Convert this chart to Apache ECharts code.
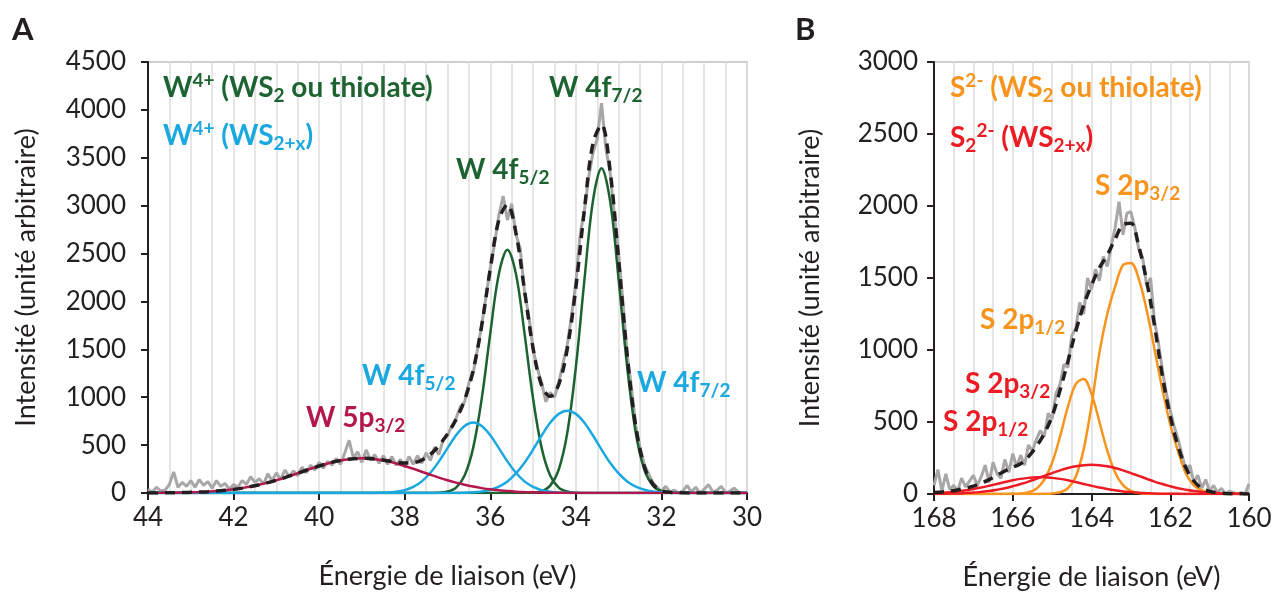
<!DOCTYPE html>
<html>
<head>
<meta charset="utf-8">
<script src="https://cdn.jsdelivr.net/npm/echarts@6/dist/echarts.min.js"></script>
<style>
html,body{margin:0;padding:0;background:#fff;}
#chart{width:1275px;height:596px;}
</style>
</head>
<body>
<div id="chart"></div>
<script>
// ---------- Panel A : W 4f region (binding energy 44 -> 30 eV) ----------
// fitted curves sampled every 0.2 eV from 44.0 to 30.0 ; raw spectrum every 0.1 eV
const fitStartA = 44.0, fitStepA = -0.2;
const rawStartA = 44.0, rawStepA = -0.1;
const tickLabelsA = ['44','42','40','38','36','34','32','30'];

const rawA = [
  40,10,60,20,30,90,220,60,110,70,
  130,60,140,80,120,50,130,70,100,40,
  90,60,130,90,170,110,150,90,200,130,
  210,140,240,170,230,180,270,210,290,240,
  320,260,330,290,360,300,420,550,370,430,
  320,450,340,400,310,390,300,380,290,350,
  270,380,300,390,310,420,340,480,400,560,
  600,700,780,900,950,1150,1250,1500,1750,2050,
  2350,2600,2900,3100,2850,3020,2700,2550,2100,1850,
  1500,1300,1150,950,1050,1000,1150,1350,1550,1850,
  2200,2700,2950,3300,3550,3700,4070,3600,3350,2900,
  2500,2000,1450,1100,700,480,300,200,110,60,
  20,70,10,30,0,20,80,10,60,0,
  40,90,10,30,70,0,20,50,10,0,
  0
];
const envelopeA = [
  1,1,2,3,4,7,10,14,20,28,
  38,51,67,86,108,133,161,191,222,253,
  282,308,331,348,358,362,359,350,336,321,
  312,316,343,403,494,617,768,971,1280,1751,
  2341,2849,3011,2715,2115,1512,1124,1009,1134,1507,
  2146,2959,3651,3843,3367,2429,1436,695,278,93,
  26,7,2,0,0,0,0,0,0,0,
  0
];
const ws2_4f52 = [
  0,0,0,0,0,0,0,0,0,0,
  0,0,0,0,0,0,0,0,0,0,
  0,0,0,0,0,0,0,0,0,0,
  0,0,0,1,3,15,57,183,471,985,
  1667,2286,2540,2286,1667,985,471,183,57,15,
  3,1,0,0,0,0,0,0,0,0,
  0,0,0,0,0,0,0,0,0,0,
  0
];
const ws2_4f72 = [
  0,0,0,0,0,0,0,0,0,0,
  0,0,0,0,0,0,0,0,0,0,
  0,0,0,0,0,0,0,0,0,0,
  0,0,0,0,0,0,0,0,0,0,
  0,0,0,0,1,4,19,77,244,629,
  1315,2225,3051,3390,3051,2225,1315,629,244,77,
  19,4,1,0,0,0,0,0,0,0,
  0
];
const ws2x_4f52 = [
  0,0,0,0,0,0,0,0,0,0,
  0,0,0,0,0,0,0,0,0,0,
  0,0,0,0,0,0,1,2,5,13,
  30,63,121,211,330,469,602,699,735,699,
  602,469,330,211,121,63,30,13,5,2,
  1,0,0,0,0,0,0,0,0,0,
  0,0,0,0,0,0,0,0,0,0,
  0
];
const ws2x_4f72 = [
  0,0,0,0,0,0,0,0,0,0,
  0,0,0,0,0,0,0,0,0,0,
  0,0,0,0,0,0,0,0,0,0,
  0,0,0,0,0,0,1,3,7,16,
  34,66,121,204,316,453,600,733,826,860,
  826,733,600,453,316,204,121,66,34,16,
  7,3,1,0,0,0,0,0,0,0,
  0
];
const w5p32 = [
  1,1,2,3,4,7,10,14,20,28,
  38,51,67,86,108,133,161,191,222,253,
  282,308,331,348,358,362,358,348,331,308,
  282,253,222,191,161,133,108,86,67,51,
  38,28,20,14,10,7,4,3,2,1,
  1,0,0,0,0,0,0,0,0,0,
  0,0,0,0,0,0,0,0,0,0,
  0
];

// ---------- Panel B : S 2p region (binding energy 168 -> 160 eV) ----------
const fitStartB = 168.0, fitStepB = -0.2;
const rawStartB = 168.0, rawStepB = -0.1;
const tickLabelsB = ['168','166','164','162','160'];

const rawB = [
  60,170,20,140,30,60,20,110,50,90,
  130,60,120,200,80,220,140,110,240,150,
  280,190,270,200,340,300,380,440,400,560,
  520,700,760,900,880,1100,1150,1330,1250,1500,
  1420,1560,1480,1650,1580,1720,1850,2030,1800,1950,
  1960,1850,1700,1640,1450,1500,1200,1050,860,700,
  580,470,380,270,160,200,80,130,40,100,
  20,60,10,40,0,20,10,0,10,0,
  70
];
const envelopeB = [
  10,14,20,28,40,55,75,100,130,160,
  185,210,260,330,420,540,720,920,1130,1310,
  1450,1570,1660,1770,1870,1880,1720,1480,1170,820,
  540,330,180,90,40,18,8,4,2,1,
  0
];
const s2_2p32 = [
  0,0,0,0,0,0,0,0,0,0,
  0,0,0,0,1,4,12,40,120,310,
  615,980,1250,1440,1590,1605,1494,1278,1006,727,
  483,295,140,60,25,10,4,1,0,0,
  0
];
const s2_2p12 = [
  0,0,0,0,0,0,0,0,0,0,
  1,3,12,37,99,217,398,605,763,799,
  695,502,301,150,62,21,6,1,0,0,
  0,0,0,0,0,0,0,0,0,0,
  0
];
const s22_2p32 = [
  1,2,3,4,7,10,15,21,30,40,
  54,69,86,106,126,145,164,180,192,200,
  203,200,192,180,164,145,126,106,86,69,
  54,40,30,21,15,10,7,4,3,2,
  1
];
const s22_2p12 = [
  6,9,13,18,26,35,45,57,70,83,
  95,105,112,116,116,112,105,95,83,70,
  57,45,35,26,18,13,9,6,3,2,
  1,1,0,0,0,0,0,0,0,0,
  0
];

// ---------- helpers ----------
function pairs(start, step, ys) {
  return ys.map((y, i) => [Math.round((start + step * i) * 100) / 100, y]);
}

const FONT = 'Lato';
const C = {
  raw: '#a9a6a6', env: '#231f20',
  green: '#1c6331', cyan: '#1aa8e0', magenta: '#b3174e',
  orange: '#f7941d', red: '#ed1c24', grid: '#dedede'
};

function xAxisCfg(gridIndex, min, max, labels) {
  return {
    type: 'value', gridIndex, min, max, interval: 2, inverse: true,
    name: 'Énergie de liaison (eV)', nameLocation: 'middle', nameGap: 70,
    nameTextStyle: { fontFamily: FONT, fontSize: 27, color: '#231f20' },
    axisLine: { show: true, onZero: false, lineStyle: { color: '#231f20', width: 2 } },
    axisTick: { show: true, length: 7, lineStyle: { color: '#231f20', width: 2 } },
    axisLabel: {
      fontFamily: FONT, fontSize: 26, color: '#231f20', margin: 12,
      formatter: v => labels.includes(String(v)) ? String(v) : ''
    },
    splitLine: { show: true, lineStyle: { color: C.grid, width: 1.5 } },
    minorTick: { show: false, splitNumber: 4 },
    minorSplitLine: { show: true, lineStyle: { color: C.grid, width: 1.5 } }
  };
}
function yAxisCfg(gridIndex, max, margin, gap) {
  return {
    type: 'value', gridIndex, min: 0, max, interval: 500,
    name: 'Intensité (unité arbitraire)', nameLocation: 'middle', nameGap: gap,
    nameTextStyle: { fontFamily: FONT, fontSize: 27, color: '#231f20' },
    axisLine: { show: true, lineStyle: { color: '#231f20', width: 2 } },
    axisTick: { show: true, length: 7, lineStyle: { color: '#231f20', width: 2 } },
    axisLabel: { fontFamily: FONT, fontSize: 26, color: '#231f20', margin, formatter: v => String(v) },
    splitLine: { show: false }
  };
}
function line(name, xi, data, color, width, extra) {
  return Object.assign({
    name, type: 'line', xAxisIndex: xi, yAxisIndex: xi, data,
    showSymbol: false, symbol: 'none', smooth: 0.35,
    lineStyle: { color, width }, itemStyle: { color }, silent: true, animation: false
  }, extra || {});
}
const dashed = { lineStyle: { color: '#231f20', width: 3.5, type: [10, 7] } };

function richFor(color, size) {
  const base = { fontFamily: FONT, fontWeight: 'bold', fill: color };
  return {
    m: Object.assign({ fontSize: size, lineHeight: 34 }, base),
    sub: Object.assign({ fontSize: Math.round(size * 0.68), lineHeight: 18, verticalAlign: 'bottom' }, base),
    sup: Object.assign({ fontSize: Math.round(size * 0.68), lineHeight: 24, verticalAlign: 'top' }, base)
  };
}
function label(x, y, text, color) {
  return {
    type: 'text', x, y, z: 100,
    style: { text, rich: richFor(color, 28), align: 'left', verticalAlign: 'middle' }
  };
}

const chart = echarts.init(document.getElementById('chart'), null, { renderer: 'canvas' });
chart.setOption({
  animation: false,
  backgroundColor: '#ffffff',
  grid: [
    { left: 148, top: 62, width: 599, height: 431, show: true, borderColor: '#cfcfcf', borderWidth: 2, backgroundColor: 'transparent' },
    { left: 934, top: 62, width: 315, height: 433, show: true, borderColor: '#cfcfcf', borderWidth: 2, backgroundColor: 'transparent' }
  ],
  xAxis: [xAxisCfg(0, 30, 44, tickLabelsA), xAxisCfg(1, 160, 168, tickLabelsB)],
  yAxis: [yAxisCfg(0, 4500, 22, 108), yAxisCfg(1, 3000, 16, 110)],
  series: [
    line('brut A', 0, pairs(rawStartA, rawStepA, rawA), C.raw, 3, { smooth: false }),
    line('W 4f7/2 WS2', 0, pairs(fitStartA, fitStepA, ws2_4f72), C.green, 2.5),
    line('W 4f5/2 WS2', 0, pairs(fitStartA, fitStepA, ws2_4f52), C.green, 2.5),
    line('W 4f7/2 WS2+x', 0, pairs(fitStartA, fitStepA, ws2x_4f72), C.cyan, 2.5),
    line('W 4f5/2 WS2+x', 0, pairs(fitStartA, fitStepA, ws2x_4f52), C.cyan, 2.5),
    line('W 5p3/2', 0, pairs(fitStartA, fitStepA, w5p32), C.magenta, 2.5),
    line('enveloppe A', 0, pairs(fitStartA, fitStepA, envelopeA), C.env, 3.5, dashed),

    line('brut B', 1, pairs(rawStartB, rawStepB, rawB), C.raw, 3, { smooth: false }),
    line('S 2p3/2 S2-', 1, pairs(fitStartB, fitStepB, s2_2p32), C.orange, 2.5),
    line('S 2p1/2 S2-', 1, pairs(fitStartB, fitStepB, s2_2p12), C.orange, 2.5),
    line('S 2p3/2 S22-', 1, pairs(fitStartB, fitStepB, s22_2p32), C.red, 2.5),
    line('S 2p1/2 S22-', 1, pairs(fitStartB, fitStepB, s22_2p12), C.red, 2.5),
    line('enveloppe B', 1, pairs(fitStartB, fitStepB, envelopeB), C.env, 3.5, dashed)
  ],
  graphic: [
    { type: 'text', x: 12, y: 30, style: { text: 'A', fontFamily: FONT, fontWeight: 'bold', fontSize: 31, fill: '#231f20', verticalAlign: 'middle' } },
    { type: 'text', x: 795, y: 30, style: { text: 'B', fontFamily: FONT, fontWeight: 'bold', fontSize: 31, fill: '#231f20', verticalAlign: 'middle' } },

    label(163, 88, '{m|W}{sup|4+}{m| (WS}{sub|2}{m| ou thiolate)}', C.green),
    label(163, 136, '{m|W}{sup|4+}{m| (WS}{sub|2+x}{m|)}', C.cyan),
    label(456, 170, '{m|W 4f}{sub|5/2}', C.green),
    label(549, 88, '{m|W 4f}{sub|7/2}', C.green),
    label(362, 376, '{m|W 4f}{sub|5/2}', C.cyan),
    label(637, 383, '{m|W 4f}{sub|7/2}', C.cyan),
    label(306, 418, '{m|W 5p}{sub|3/2}', C.magenta),

    label(950, 88, '{m|S}{sup|2-}{m| (WS}{sub|2}{m| ou thiolate)}', C.orange),
    label(950, 138, '{m|S}{sub|2}{sup|2-}{m| (WS}{sub|2+x}{m|)}', C.red),
    label(1095, 186, '{m|S 2p}{sub|3/2}', C.orange),
    label(980, 320, '{m|S 2p}{sub|1/2}', C.orange),
    label(965, 384, '{m|S 2p}{sub|3/2}', C.red),
    label(943, 422, '{m|S 2p}{sub|1/2}', C.red)
  ]
});
</script>
</body>
</html>
